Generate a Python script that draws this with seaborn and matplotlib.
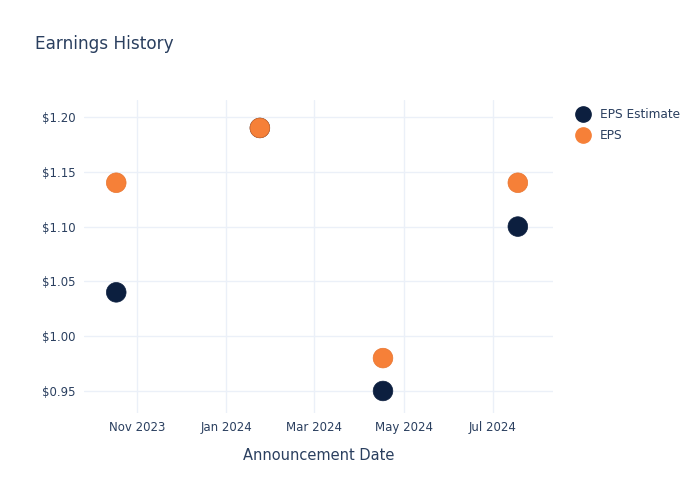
import matplotlib
matplotlib.use("Agg")
import matplotlib.pyplot as plt
import matplotlib.dates as mdates
import seaborn as sns
import pandas as pd
from matplotlib.lines import Line2D

dates = ["2023-10-18", "2024-01-24", "2024-04-17", "2024-07-18"]
eps_estimate = [1.04, 1.19, 0.95, 1.10]
eps_actual = [1.14, 1.19, 0.98, 1.14]
series_names = ["EPS Estimate", "EPS"]
colors = ["#0c1f3f", "#f68038"]

df = pd.DataFrame({
    "date": pd.to_datetime(dates * 2),
    "value": eps_estimate + eps_actual,
    "series": [series_names[0]] * 4 + [series_names[1]] * 4,
})

sns.set_style("white")
plt.rcParams['font.family'] = ['DejaVu Sans']
text_color = "#2a3f5f"
grid_color = "#ebf0f8"

fig = plt.figure(figsize=(7, 5), dpi=100)
ax = fig.add_axes([0.12, 0.174, 0.67, 0.626])

sns.scatterplot(data=df, x="date", y="value", hue="series", palette=colors,
                hue_order=series_names, s=200, edgecolor=["#0c1f3f"]*4 + ["#e8742e"]*4,
                linewidth=0.5, ax=ax, legend=False, zorder=3)

ax.set_xlim(pd.Timestamp("2023-09-26"), pd.Timestamp("2024-08-11"))
ax.set_ylim(0.9299, 1.2155)
ax.set_yticks([0.95, 1.00, 1.05, 1.10, 1.15, 1.20])
ax.set_yticklabels([f"${v:.2f}" for v in [0.95, 1.00, 1.05, 1.10, 1.15, 1.20]])
ax.xaxis.set_major_locator(mdates.MonthLocator(bymonth=[1, 3, 5, 7, 9, 11]))
ax.xaxis.set_major_formatter(mdates.DateFormatter("%b %Y"))

ax.grid(True, color=grid_color, linewidth=1)
ax.set_axisbelow(True)
for sp in ax.spines.values():
    sp.set_visible(False)
ax.tick_params(axis="both", length=0, labelsize=8.5, colors=text_color, pad=6)
ax.set_xlabel("Announcement Date", fontsize=10.5, color=text_color, labelpad=10)
ax.set_ylabel("")

fig.text(0.05, 0.912, "Earnings History", fontsize=12.2, color=text_color, va="center")

handles = [Line2D([], [], marker="o", linestyle="", markersize=11, color=c) for c in colors]
leg = fig.legend(handles, series_names, loc="upper left", bbox_to_anchor=(0.809, 0.805),
                 frameon=False, fontsize=8.7, handletextpad=0.9, labelspacing=0.62,
                 handlelength=1.0)
for t in leg.get_texts():
    t.set_color(text_color)

fig.savefig("out.png", dpi=100)
